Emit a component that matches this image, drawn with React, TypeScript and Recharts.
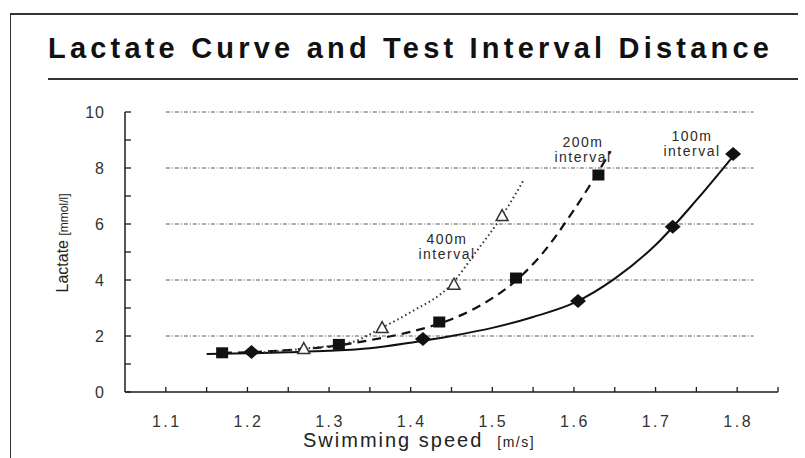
import { ComposedChart, Line, Scatter, XAxis, YAxis, ReferenceLine, Label } from 'recharts';

// measured points: swimming speed [m/s] and lactate [mmol/l]
const speed100 = [1.205, 1.415, 1.605, 1.721, 1.795];
const lactate100 = [1.43, 1.89, 3.25, 5.9, 8.5];
const speed200 = [1.169, 1.312, 1.435, 1.529, 1.63];
const lactate200 = [1.4, 1.7, 2.5, 4.07, 7.75];
const speed400 = [1.269, 1.365, 1.453, 1.512];
const lactate400 = [1.55, 2.3, 3.85, 6.3];

// fitted curves
const fitSpeed100 = [1.15, 1.2, 1.25, 1.3, 1.35, 1.4, 1.45, 1.5, 1.55, 1.6, 1.65, 1.7, 1.75, 1.8];
const fitLactate100 = [1.36, 1.38, 1.42, 1.47, 1.56, 1.76, 2.0, 2.29, 2.68, 3.18, 4.05, 5.25, 6.85, 8.6];
const fitSpeed200 = [1.17, 1.2, 1.25, 1.3, 1.35, 1.4, 1.45, 1.5, 1.53, 1.56, 1.6, 1.645];
const fitLactate200 = [1.4, 1.42, 1.5, 1.62, 1.85, 2.15, 2.6, 3.35, 4.0, 4.9, 6.5, 8.6];
const fitSpeed400 = [1.22, 1.27, 1.33, 1.365, 1.4, 1.45, 1.48, 1.51, 1.539];
const fitLactate400 = [1.42, 1.55, 1.8, 2.3, 2.85, 3.85, 5.0, 6.2, 7.6];

const xTicks = [1.1, 1.15, 1.2, 1.25, 1.3, 1.35, 1.4, 1.45, 1.5, 1.55, 1.6, 1.65, 1.7, 1.75, 1.8, 1.85];
const yTicks = [0, 1, 2, 3, 4, 5, 6, 7, 8, 9, 10];
const gridLevels = [2, 4, 6, 8, 10];

const pairs = (xs: number[], ys: number[]) => xs.map((x, i) => ({ x, y: ys[i] }));

const INK = '#1c1c1c';
const FONT = '"Liberation Sans", Arial, sans-serif';

const YTick = (props: any) => {
  const { x, y, payload } = props;
  const v = payload.value;
  return (
    <g>
      <line x1={x} y1={y} x2={x + 6} y2={y} stroke={INK} strokeWidth={1.3} />
      {v % 2 === 0 && (
        <text x={x - 20} y={y} dy="0.36em" textAnchor="end" fontSize={16} fill="#333" letterSpacing={1} fontFamily={FONT}>
          {v}
        </text>
      )}
    </g>
  );
};

const XTick = (props: any) => {
  const { x, y, payload } = props;
  const v = payload.value;
  const labelled = Math.abs(v * 10 - Math.round(v * 10)) < 1e-6;
  return (
    <g>
      <line x1={x} y1={y} x2={x} y2={y - 5} stroke={INK} strokeWidth={1.3} />
      {labelled && (
        <text x={x + 1} y={y + 35} textAnchor="middle" fontSize={16} fill="#333" letterSpacing={2.5} fontFamily={FONT}>
          {v.toFixed(1)}
        </text>
      )}
    </g>
  );
};

const Diamond = ({ cx, cy }: any) => (
  <polygon points={`${cx - 8},${cy} ${cx},${cy - 7} ${cx + 8},${cy} ${cx},${cy + 7}`} fill="#111" />
);
const Square = ({ cx, cy }: any) => <rect x={cx - 6} y={cy - 5.5} width={12} height={11} fill="#111" />;
const Triangle = ({ cx, cy }: any) => (
  <polygon
    points={`${cx - 6},${cy + 5} ${cx},${cy - 6} ${cx + 6},${cy + 5}`}
    fill="#fff"
    stroke="#333"
    strokeWidth={1.5}
  />
);

const Note = ({ cx, top, lines }: { cx: number; top: number; lines: string[] }) => (
  <div
    style={{
      position: 'absolute',
      left: cx - 50,
      top,
      width: 100,
      textAlign: 'center',
      fontSize: 14,
      lineHeight: '15px',
      letterSpacing: 1.5,
      color: '#2a2a2a',
    }}
  >
    {lines.map((l) => (
      <div key={l}>{l}</div>
    ))}
  </div>
);

export default function App() {
  return (
    <div
      style={{
        position: 'absolute',
        left: 0,
        top: 0,
        width: 805,
        height: 458,
        background: '#fff',
        fontFamily: FONT,
        overflow: 'hidden',
      }}
    >
      {/* frame and heading */}
      <div style={{ position: 'absolute', left: 10, top: 13, width: 788, height: 0, borderTop: '2px solid #333' }} />
      <div style={{ position: 'absolute', left: 10, top: 13, width: 0, height: 445, borderLeft: '1.5px solid #333' }} />
      <div
        style={{
          position: 'absolute',
          left: 48,
          top: 34,
          fontSize: 29,
          lineHeight: '29px',
          fontWeight: 'bold',
          letterSpacing: 4.2,
          color: '#111',
          whiteSpace: 'nowrap',
        }}
      >
        Lactate Curve and Test Interval Distance
      </div>
      <div style={{ position: 'absolute', left: 48, top: 78, width: 750, height: 0, borderTop: '2px solid #333' }} />

      <div style={{ position: 'absolute', left: 0, top: 0 }}>
        <ComposedChart width={805} height={458} margin={{ top: 112, right: 27, bottom: 6, left: 65 }}>
          <XAxis
            type="number"
            dataKey="x"
            domain={[1.05, 1.85]}
            ticks={xTicks}
            interval={0}
            height={60}
            stroke={INK}
            strokeWidth={1.5}
            tickLine={false}
            tickSize={0}
            tickMargin={0}
            tick={<XTick />}
          >
            <Label
              content={() => (
                <text x={303} y={447} fontFamily={FONT} fill="#222">
                  <tspan fontSize={20} letterSpacing={2}>
                    Swimming speed
                  </tspan>
                  <tspan dx={14} fontSize={14} letterSpacing={1.5}>
                    [m/s]
                  </tspan>
                </text>
              )}
            />
          </XAxis>
          <YAxis
            type="number"
            dataKey="y"
            domain={[0, 10]}
            ticks={yTicks}
            interval={0}
            width={60}
            stroke={INK}
            strokeWidth={1.5}
            tickLine={false}
            tickSize={0}
            tickMargin={0}
            tick={<YTick />}
          >
            <Label
              content={() => (
                <text x={62} y={243} transform="rotate(-90, 62, 243)" textAnchor="middle" dy="0.35em" fontFamily={FONT} fill="#222">
                  <tspan fontSize={16}>Lactate </tspan>
                  <tspan fontSize={12}>[mmol/l]</tspan>
                </text>
              )}
            />
          </YAxis>

          {gridLevels.map((v) => (
            <ReferenceLine
              key={v}
              segment={[
                { x: 1.1, y: v },
                { x: 1.82, y: v },
              ]}
              stroke="#555"
              strokeWidth={1}
              strokeDasharray="4 2 1 2"
            />
          ))}

          <Line
            data={pairs(fitSpeed100, fitLactate100)}
            dataKey="y"
            type="monotone"
            stroke="#111"
            strokeWidth={2}
            dot={false}
            activeDot={false}
            isAnimationActive={false}
          />
          <Line
            data={pairs(fitSpeed200, fitLactate200)}
            dataKey="y"
            type="monotone"
            stroke="#111"
            strokeWidth={2.2}
            strokeDasharray="9 6"
            dot={false}
            activeDot={false}
            isAnimationActive={false}
          />
          <Line
            data={pairs(fitSpeed400, fitLactate400)}
            dataKey="y"
            type="monotone"
            stroke="#333"
            strokeWidth={2}
            strokeDasharray="1.5 3"
            dot={false}
            activeDot={false}
            isAnimationActive={false}
          />

          <Scatter data={pairs(speed100, lactate100)} dataKey="y" shape={Diamond} isAnimationActive={false} />
          <Scatter data={pairs(speed200, lactate200)} dataKey="y" shape={Square} isAnimationActive={false} />
          <Scatter data={pairs(speed400, lactate400)} dataKey="y" shape={Triangle} isAnimationActive={false} />
        </ComposedChart>
      </div>

      <Note cx={447} top={232} lines={['400m', 'interval']} />
      <Note cx={583} top={135} lines={['200m', 'interval']} />
      <Note cx={692} top={129} lines={['100m', 'interval']} />
    </div>
  );
}
